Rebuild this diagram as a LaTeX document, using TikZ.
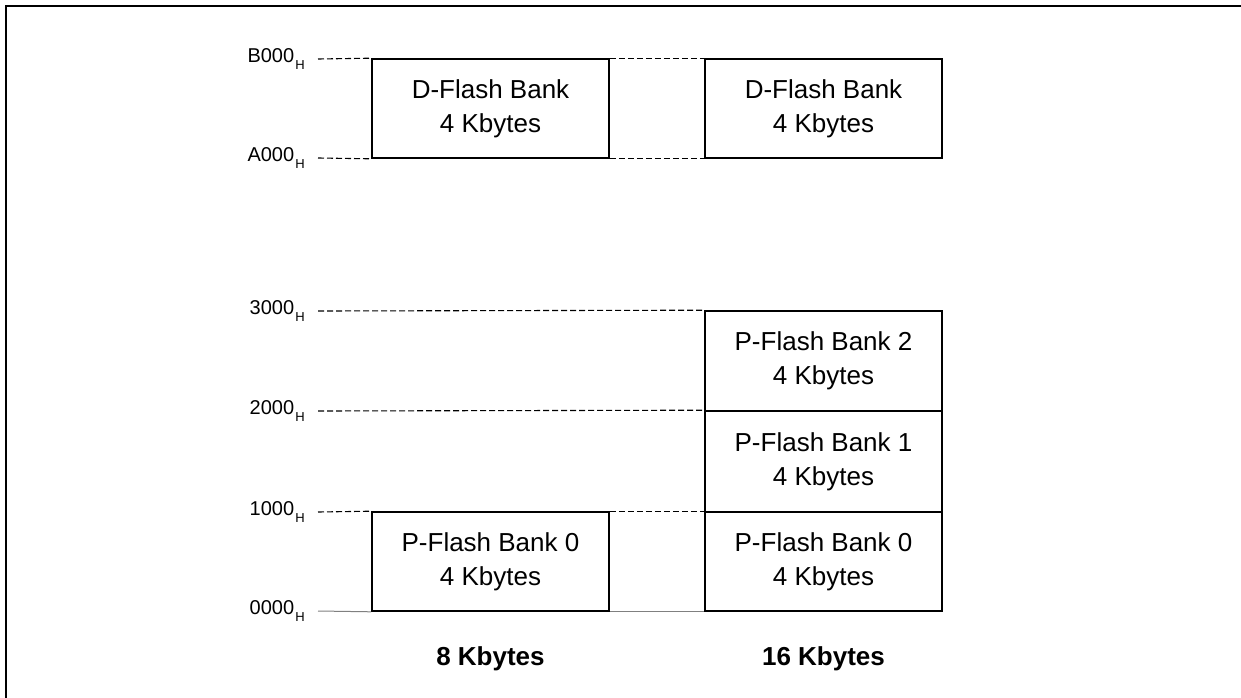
\documentclass[tikz,border=0pt]{standalone}
\usepackage{fontspec}
\setmainfont{Liberation Sans}
\begin{document}
\begin{tikzpicture}[x=1pt,y=-1pt,
  bank/.style={draw, line width=1.6pt, fill=white, minimum width=237pt, inner sep=0pt,
    align=center, font=\fontsize{26}{34}\selectfont},
  addr/.style={inner sep=0pt, anchor=base east, font=\fontsize{20}{20}\selectfont},
  dline/.style={line width=1.1pt, dash pattern=on 6pt off 3pt},
  sline/.style={line width=1pt, gray},
  captext/.style={inner sep=0pt, anchor=base, font=\fontsize{26}{26}\selectfont\bfseries}]
\useasboundingbox (0,0) rectangle (1241,698);
% frame
\draw[line width=2pt] (6,698) -- (6,6) -- (1241,6);

% line start coordinates
\coordinate (sB) at (318,59);
\coordinate (sA) at (318,158);
\coordinate (s3) at (318,311);
\coordinate (s2) at (318,411);
\coordinate (s1) at (318,512);
\coordinate (s0) at (318,611);

% boxes
\node[bank, minimum height=99pt] (dl) at (490.5,108.5) {D-Flash Bank\\4 Kbytes};
\node[bank, minimum height=99pt] (dr) at (823.5,108.5) {D-Flash Bank\\4 Kbytes};
\node[bank, minimum height=99pt] (pl) at (490.5,561.5) {P-Flash Bank 0\\4 Kbytes};
\node[bank, minimum height=100pt] (p2) at (823.5,361) {P-Flash Bank 2\\4 Kbytes};
\node[bank, minimum height=101pt] (p1) at (823.5,461.5) {P-Flash Bank 1\\4 Kbytes};
\node[bank, minimum height=99pt] (p0) at (823.5,561.5) {P-Flash Bank 0\\4 Kbytes};

% guide lines
\draw[dline] (sB) -- (dl.north west);
\draw[dline] (dl.north east) -- (dr.north west);
\draw[dline] (sA) -- (dl.south west);
\draw[dline] (dl.south east) -- (dr.south west);
\draw[dline] (s3) -- (p2.north west);
\draw[dline] (s2) -- (p1.north west);
\draw[dline] (s1) -- (pl.north west);
\draw[dline] (pl.north east) -- (p0.north west);
\draw[sline] (s0) -- (pl.south west);
\draw[sline] (pl.south east) -- (p0.south west);

% address labels
\newcommand{\hsub}{\hspace{1.2pt}\raisebox{-6.6pt}{\fontsize{13}{13}\selectfont H}}
\node[addr] (lB) at (305,62.7) {B000\hsub};
\node[addr] (lA) at (305,161.7) {A000\hsub};
\node[addr] (l3) at (305,314.7) {3000\hsub};
\node[addr] (l2) at (305,414.7) {2000\hsub};
\node[addr] (l1) at (305,515.7) {1000\hsub};
\node[addr] (l0) at (305,614.7) {0000\hsub};

% captions
\node[captext] (c8) at (490.5,665) {8 Kbytes};
\node[captext] (c16) at (823.5,665) {16 Kbytes};
\end{tikzpicture}
\end{document}
